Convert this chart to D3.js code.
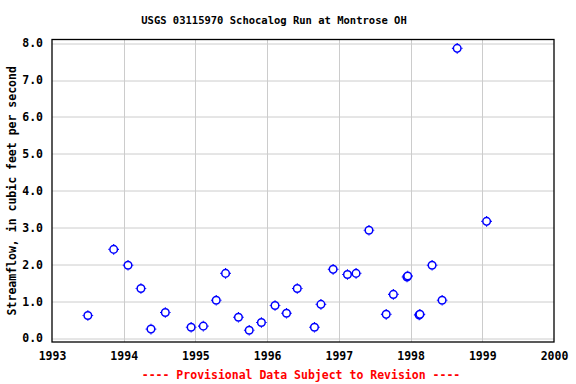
<!DOCTYPE html>
<html>
<head>
<meta charset="utf-8">
<script src="https://cdn.jsdelivr.net/npm/d3@7"></script>
<style>
  body { margin: 0; background: #fff; }
  text { font-family: "DejaVu Sans Mono", monospace; font-weight: bold; }
</style>
</head>
<body>
<div id="chart"></div>
<script>
var years = [1993.50, 1993.86, 1994.06, 1994.24, 1994.38, 1994.58, 1994.94, 1995.11,
             1995.29, 1995.42, 1995.60, 1995.75, 1995.92, 1996.11, 1996.27, 1996.42,
             1996.66, 1996.75, 1996.92, 1997.12, 1997.24, 1997.42, 1997.66, 1997.76,
             1997.95, 1997.96, 1998.12, 1998.13, 1998.30, 1998.44, 1998.65, 1999.06];
var flows = [0.62, 2.41, 1.98, 1.35, 0.25, 0.70, 0.30, 0.33,
             1.03, 1.76, 0.57, 0.22, 0.43, 0.89, 0.68, 1.35,
             0.30, 0.92, 1.87, 1.73, 1.76, 2.93, 0.65, 1.19,
             1.66, 1.69, 0.63, 0.65, 1.98, 1.03, 7.86, 3.17];
var xTicks = [1993, 1994, 1995, 1996, 1997, 1998, 1999, 2000];
var yTicks = [0, 1, 2, 3, 4, 5, 6, 7, 8];

var fullWidth = 576, fullHeight = 384;
var margin = {top: 39.5, right: 22, bottom: 42, left: 52};
var width = fullWidth - margin.left - margin.right;
var height = fullHeight - margin.top - margin.bottom;

var svg = d3.select('#chart').append('svg')
  .attr('width', fullWidth)
  .attr('height', fullHeight);

var g = svg.append('g')
  .attr('transform', 'translate(' + margin.left + ',' + margin.top + ')');

var x = d3.scaleLinear().domain([1993, 2000]).range([0, width]);
var y = d3.scaleLinear().domain([-0.1, 8.1]).range([height, 0]);

// grid lines
g.append('g').selectAll('line.v')
  .data(xTicks.slice(1, -1))
  .enter().append('line')
    .attr('x1', function(d) { return Math.round(x(d)) + 0.5; })
    .attr('x2', function(d) { return Math.round(x(d)) + 0.5; })
    .attr('y1', 0).attr('y2', height)
    .attr('stroke', '#cccccc');

g.append('g').selectAll('line.h')
  .data(yTicks)
  .enter().append('line')
    .attr('y1', function(d) { return Math.round(y(d)) + 0.5; })
    .attr('y2', function(d) { return Math.round(y(d)) + 0.5; })
    .attr('x1', 0).attr('x2', width)
    .attr('stroke', '#cccccc');

// frame
g.append('rect')
  .attr('x', 0).attr('y', 0)
  .attr('width', width).attr('height', height)
  .attr('fill', 'none')
  .attr('stroke', '#000')
  .attr('stroke-width', 1.3);

// axes, text only
var xAxis = d3.axisBottom(x).tickValues(xTicks).tickFormat(d3.format('d')).tickSize(0).tickPadding(10);
var yAxis = d3.axisLeft(y).tickValues(yTicks).tickFormat(d3.format('.1f')).tickSize(0).tickPadding(9);

var xa = g.append('g').attr('transform', 'translate(0,' + height + ')').call(xAxis);
var ya = g.append('g').call(yAxis);
[xa, ya].forEach(function(a) {
  a.select('.domain').remove();
  a.selectAll('text').style('font-size', '11.5px').style('font-family', '"DejaVu Sans Mono", monospace').attr('fill', '#000');
});

// points: open circle with small ticks
var pts = g.append('g').selectAll('g.pt')
  .data(years.map(function(v, i) { return [v, flows[i]]; }))
  .enter().append('g')
    .attr('transform', function(d) { return 'translate(' + x(d[0]) + ',' + y(d[1]) + ')'; });

pts.append('circle')
  .attr('r', 3.8)
  .attr('fill', '#fff')
  .attr('stroke', '#0000ff')
  .attr('stroke-width', 1.5);

pts.append('path')
  .attr('d', 'M0,-5.3V-4.3M0,4.3V5.3M-5.3,0H-4.3M4.3,0H5.3')
  .attr('stroke', '#0000ff')
  .attr('stroke-width', 1.1);

// title
svg.append('text')
  .attr('x', 274).attr('y', 24)
  .attr('text-anchor', 'middle')
  .style('font-size', '10.5px')
  .text('USGS 03115970 Schocalog Run at Montrose OH');

// y label
svg.append('text')
  .attr('transform', 'translate(16,' + (margin.top + height / 2) + ')rotate(-90)')
  .attr('text-anchor', 'middle')
  .style('font-size', '11.5px')
  .text('Streamflow, in cubic feet per second');

// footer
svg.append('text')
  .attr('x', 301).attr('y', 379)
  .attr('text-anchor', 'middle')
  .attr('fill', '#ff0000')
  .style('font-size', '11.5px')
  .text('---- Provisional Data Subject to Revision ----');
</script>
</body>
</html>
